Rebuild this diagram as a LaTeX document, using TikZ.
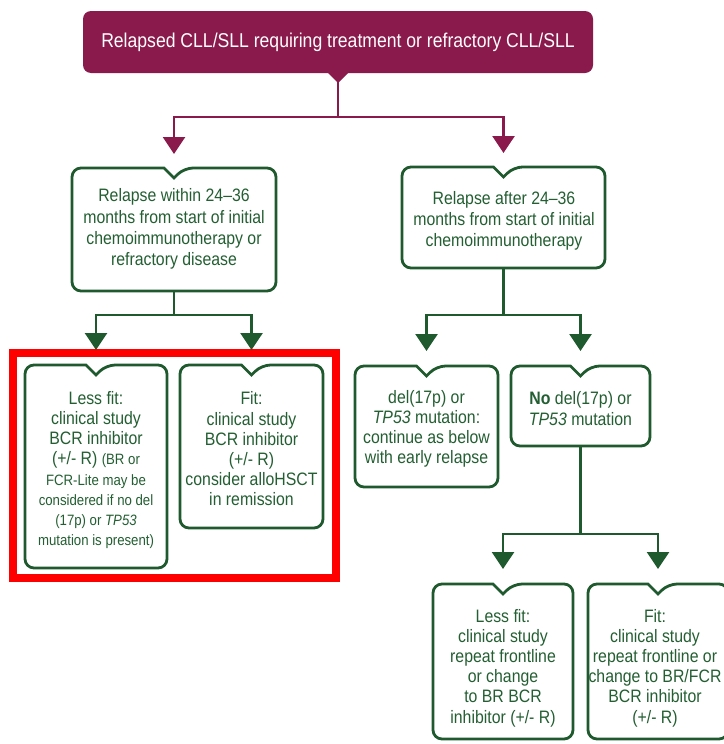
\documentclass[tikz,border=0pt]{standalone}
\usepackage{fontspec}
\setmainfont{Liberation Sans}[FakeStretch=0.88]
\usetikzlibrary{calc,arrows.meta}
\definecolor{maroon}{RGB}{138,26,76}
\definecolor{gline}{RGB}{30,90,45}
\definecolor{gtext}{RGB}{35,95,50}
\newcommand{\gframe}[1]{%
  \draw[gboxline] ($(#1.north)+(-10,0)$) [rounded corners=9pt] -- (#1.north west) -- (#1.south west) -- (#1.south east) -- (#1.north east) -- ($(#1.north)+(10,0)$) [sharp corners] -- ($(#1.north)+(0,10)$) -- cycle;}
\newcommand{\sm}{\fontsize{15pt}{20.3pt}\selectfont}
\begin{document}
\begin{tikzpicture}[x=1pt,y=-1pt,
  boxarea/.style={inner sep=0pt,outer sep=0pt,draw=none},
  gboxline/.style={draw=gline,line width=2.8pt,fill=white},
  txt/.style={text=gtext,align=center,inner sep=0pt,font=\fontsize{18pt}{21.3pt}\selectfont},
  txtb/.style={text=gtext,align=center,inner sep=0pt,font=\fontsize{18pt}{20.2pt}\selectfont},
  mline/.style={draw=maroon,line width=2.6pt},
  marrow/.style={mline,-{Triangle[width=22pt,length=17pt]},shorten >=14pt},
  glink/.style={draw=gline,line width=2.6pt},
  garrow/.style={glink,-{Triangle[width=22pt,length=17pt]},shorten >=15pt}]
\useasboundingbox (0,0) rectangle (723,744);
\fill[white] (0,0) rectangle (723,744);

% red highlight
\node[boxarea,draw=red,line width=8pt,minimum width=323pt,minimum height=225pt] (R) at (174.5,465.5) {};

% top box
\node[inner sep=0pt,outer sep=0pt,fill=maroon,rounded corners=8pt,minimum width=510pt,minimum height=62pt,text=white,font=\fontsize{20pt}{24pt}\selectfont] (T) at (338,42) {Relapsed CLL/SLL requiring treatment or refractory CLL/SLL};
\fill[maroon] ($(T.south)+(-11,-1)$) -- ($(T.south)+(11,-1)$) -- ($(T.south)+(0,10)$) -- cycle;

% green boxes (areas)
\node[boxarea,minimum width=204pt,minimum height=123pt] (A) at (174,229.5) {};
\node[boxarea,minimum width=203pt,minimum height=101pt] (B) at (503.5,217.5) {};
\node[boxarea,minimum width=142pt,minimum height=203pt] (C) at (96,466.5) {};
\node[boxarea,minimum width=143pt,minimum height=163pt] (D) at (251.5,446.5) {};
\node[boxarea,minimum width=143pt,minimum height=121pt] (E) at (426.5,426.5) {};
\node[boxarea,minimum width=139pt,minimum height=80pt] (F) at (580.5,406) {};
\node[boxarea,minimum width=140pt,minimum height=155pt] (G) at (503,661.5) {};
\node[boxarea,minimum width=140pt,minimum height=155pt] (H) at (658,661.5) {};
\gframe{A}\gframe{B}\gframe{C}\gframe{D}\gframe{E}\gframe{F}\gframe{G}\gframe{H}

% texts
\node[txt] (At) at (174,229) {Relapse within 24–36\\months from start of initial\\chemoimmunotherapy or\\refractory disease};
\node[txt] (Bt) at (504,221) {Relapse after 24–36\\months from start of initial\\chemoimmunotherapy};
\node[txtb] (Ct) at (96,470) {Less fit:\\clinical study\\BCR inhibitor\\(+/- R) {\sm(BR or}\\{\sm FCR-Lite may be}\\{\sm considered if no del}\\{\sm(17p) or \textit{TP53}}\\{\sm mutation is present)}};
\node[txtb] (Dt) at (251.5,449) {Fit:\\clinical study\\BCR inhibitor\\(+/- R)\\consider alloHSCT\\in remission};
\node[txtb] (Et) at (426.5,429) {del(17p) or\\\textit{TP53} mutation:\\continue as below\\with early relapse};
\node[txtb] (Ft) at (580.5,408.5) {\textbf{No} del(17p) or\\\textit{TP53} mutation};
\node[txtb] (Gt) at (503,668) {Less fit:\\clinical study\\repeat frontline\\or change\\to BR BCR\\inhibitor (+/- R)};
\node[txtb] (Ht) at (655,668) {Fit:\\clinical study\\repeat frontline or\\change to BR/FCR\\BCR inhibitor\\(+/- R)};

% connectors
\coordinate (t1) at (338,117);
\draw[mline] (T.south) -- (t1);
\draw[marrow] (t1) -| (A.north);
\draw[marrow] (t1) -| (B.north);

\coordinate (a1) at (174,315);
\draw[glink] (A.south) -- (a1);
\draw[garrow] (a1) -| (C.north);
\draw[garrow] (a1) -| (D.north);

\coordinate (b1) at (503.5,315);
\draw[glink] (B.south) -- (b1);
\draw[garrow] (b1) -| (E.north);
\draw[garrow] (b1) -| (F.north);

\coordinate (f1) at (580.5,534);
\draw[glink] (F.south) -- (f1);
\draw[garrow] (f1) -| (G.north);
\draw[garrow] (f1) -| (H.north);
\end{tikzpicture}
\end{document}
